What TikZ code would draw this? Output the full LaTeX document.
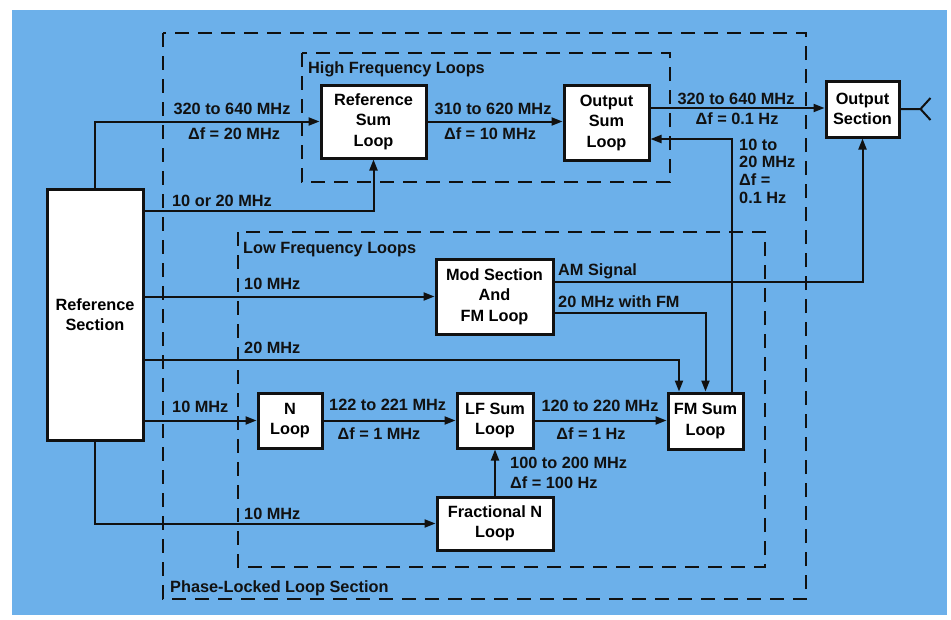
\documentclass[tikz,border=0pt]{standalone}
\usepackage{fontspec}
\setmainfont{Liberation Sans}
\usetikzlibrary{arrows.meta}
\definecolor{bg}{RGB}{108,176,234}
\definecolor{ink}{RGB}{17,17,17}
\newcommand\labfont{\bfseries\fontsize{16.3}{17.6}\selectfont}
\newcommand\boxfont{\bfseries\fontsize{16.3}{20.5}\selectfont}
\begin{document}
\begin{tikzpicture}[x=1pt,y=-1pt,
  box/.style={draw=ink, line width=3pt, fill=white, inner sep=0pt, align=center, font=\boxfont},
  lab/.style={inner sep=0pt, font=\labfont, text=ink},
  conn/.style={draw=ink, line width=2pt},
  arr/.style={conn, -{Triangle[length=11pt,width=8pt]}},
  dbox/.style={draw=ink, line width=1.6pt, dash pattern=on 14pt off 9pt}]
\useasboundingbox (0,0) rectangle (951,619);
\fill[white] (0,0) rectangle (951,619);
\fill[bg] (12,10) rectangle (947,615);
% dashed groups
\draw[dbox] (163,33) rectangle (806,599);
\draw[dbox] (302,53) rectangle (670,182);
\draw[dbox] (238,232) rectangle (765,567);
% boxes
\node[box, minimum width=96pt, minimum height=251pt] (refsec) at (95,314.5) {Reference\\Section};
\node[box, minimum width=105pt, minimum height=73pt] (refsum) at (373.5,121.5) {Reference\\Sum\\Loop};
\node[box, minimum width=85pt, minimum height=75pt] (outsum) at (606.5,122.5) {Output\\Sum\\Loop};
\node[box, minimum width=73pt, minimum height=56pt] (outsec) at (862.5,109) {Output\\Section};
\node[box, minimum width=117pt, minimum height=75pt] (mod) at (494.5,296.5) {Mod Section\\And\\FM Loop};
\node[box, minimum width=64pt, minimum height=55pt] (nloop) at (290,420.5) {N\\Loop};
\node[box, minimum width=76pt, minimum height=55pt] (lfsum) at (495,420.5) {LF Sum\\Loop};
\node[box, minimum width=75pt, minimum height=56pt] (fmsum) at (705.5,421) {FM Sum\\Loop};
\node[box, minimum width=116pt, minimum height=53pt] (frac) at (495,523.5) {Fractional N\\Loop};
% coordinates for connector bends
\coordinate (c1) at (0,211);
\coordinate (c2) at (0,108);
\coordinate (c3) at (732,0);
\coordinate (c4) at (0,139);
\coordinate (c5) at (0,282);
\coordinate (c6) at (0,313);
\coordinate (c7) at (0,360);
\coordinate (c8) at (679,0);
% connectors
\draw[arr] (refsec.north) |- (refsum.west);
\draw[arr] (refsec.east |- c1) -| (refsum.south);
\draw[arr] (refsum.east) -- (refsum.east -| outsum.west);
\draw[arr] (outsum.east |- c2) -- (outsec.west |- c2);
\draw[conn] (outsec.east) -- ++(20,0) coordinate (ant) -- ++(10,-11);
\draw[conn] (ant) -- ++(10,11);
\draw[arr] (fmsum.north -| c3) |- (outsum.east |- c4);
\draw[arr] (mod.east |- c5) -| (outsec.south);
\draw[arr] (mod.east |- c6) -| (fmsum.north);
\draw[arr] (refsec.east |- mod.west) -- (mod.west);
\draw[arr] (refsec.east |- c7) -| (fmsum.north -| c8);
\draw[arr] (refsec.east |- nloop.west) -- (nloop.west);
\draw[arr] (nloop.east) -- (lfsum.west);
\draw[arr] (lfsum.east) -- (fmsum.west |- lfsum.east);
\draw[arr] (frac.north) -- (lfsum.south);
\draw[arr] (refsec.south) |- (frac.west);
% labels
\node[lab, anchor=base] (l1) at (232,114) {320 to 640 MHz};
\node[lab, anchor=base] (l2) at (234,139) {Δf = 20 MHz};
\node[lab, anchor=base] (l3) at (222,206) {10 or 20 MHz};
\node[lab, anchor=base] (l4) at (493,114) {310 to 620 MHz};
\node[lab, anchor=base] (l5) at (490,139) {Δf = 10 MHz};
\node[lab, anchor=base] (l6) at (736,104) {320 to 640 MHz};
\node[lab, anchor=base] (l7) at (737,124) {Δf = 0.1 Hz};
\node[lab, anchor=base west, align=left] (l8) at (739,203) {10 to\\20 MHz\\Δf =\\0.1 Hz};
\node[lab, anchor=base west] (l9) at (308,73) {High Frequency Loops};
\node[lab, anchor=base west] (l10) at (243,253) {Low Frequency Loops};
\node[lab, anchor=base west] (l11) at (170,592) {Phase-Locked Loop Section};
\node[lab, anchor=base west] (l12) at (558,275) {AM Signal};
\node[lab, anchor=base west] (l13) at (558,307) {20 MHz with FM};
\node[lab, anchor=base west] (l14) at (244,289) {10 MHz};
\node[lab, anchor=base west] (l15) at (244,353) {20 MHz};
\node[lab, anchor=base west] (l16) at (172,412) {10 MHz};
\node[lab, anchor=base west] (l17) at (329,410) {122 to 221 MHz};
\node[lab, anchor=base] (l18) at (379,439) {Δf = 1 MHz};
\node[lab, anchor=base] (l19) at (600,411) {120 to 220 MHz};
\node[lab, anchor=base] (l20) at (591,439) {Δf = 1 Hz};
\node[lab, anchor=base west] (l21) at (510,468) {100 to 200 MHz};
\node[lab, anchor=base west] (l22) at (510,488) {Δf = 100 Hz};
\node[lab, anchor=base west] (l23) at (244,519) {10 MHz};
\end{tikzpicture}
\end{document}
